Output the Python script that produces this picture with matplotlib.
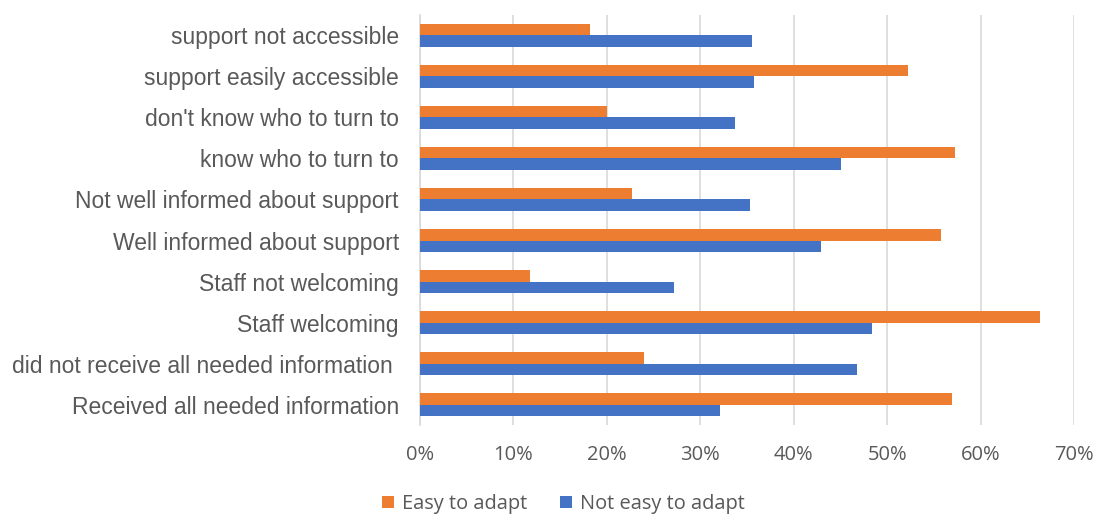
import numpy as np
import matplotlib
matplotlib.use("Agg")
import matplotlib.pyplot as plt
from matplotlib.ticker import PercentFormatter

# categories listed bottom to top
categories = [
    "Received all needed information",
    "did not receive all needed information ",
    "Staff welcoming",
    "Staff not welcoming",
    "Well informed about support",
    "Not well informed about support",
    "know who to turn to",
    "don't know who to turn to",
    "support easily accessible",
    "support not accessible",
]
easy = [56.9, 24.0, 66.4, 11.8, 55.8, 22.7, 57.3, 20.0, 52.2, 18.2]
not_easy = [32.1, 46.8, 48.4, 27.2, 42.9, 35.3, 45.1, 33.7, 35.8, 35.5]

orange = "#ED7D31"
blue = "#4472C4"
grey = "#595959"

fig = plt.figure(figsize=(10.96, 5.14), dpi=100)
ax = fig.add_axes([0.383, 0.173, 0.597, 0.798])

y = np.arange(len(categories))
h = 0.275
ax.barh(y + h / 2, easy, height=h, color=orange, label="Easy to adapt", zorder=3)
ax.barh(y - h / 2, not_easy, height=h, color=blue, label="Not easy to adapt", zorder=3)

ax.set_xlim(0, 70)
ax.set_ylim(-0.5, len(categories) - 0.5)
ax.set_xticks(np.arange(0, 71, 10))
ax.xaxis.set_major_formatter(PercentFormatter(decimals=0))
ax.set_yticks(y)
ax.set_yticklabels(categories, fontsize=16.5, color=grey, family="Liberation Sans")
ax.tick_params(axis="x", labelsize=14.5, colors=grey, length=0, pad=14)
ax.tick_params(axis="y", length=0, pad=15)
for lab in ax.get_xticklabels():
    lab.set_family("Open Sans")

ax.grid(axis="x", color="#D9D9D9", linewidth=1.2, zorder=0)
for s in ["top", "right", "bottom"]:
    ax.spines[s].set_visible(False)
ax.spines["left"].set_color("#D9D9D9")
ax.spines["left"].set_linewidth(1.2)

fig.legend(loc="lower center", bbox_to_anchor=(0.514, -0.035), ncol=2, frameon=False,
           prop={"family": "Open Sans", "size": 14.4}, labelcolor=grey,
           handlelength=0.6, handleheight=0.6, columnspacing=1.6, handletextpad=0.4)

fig.savefig("out.png", dpi=100)
